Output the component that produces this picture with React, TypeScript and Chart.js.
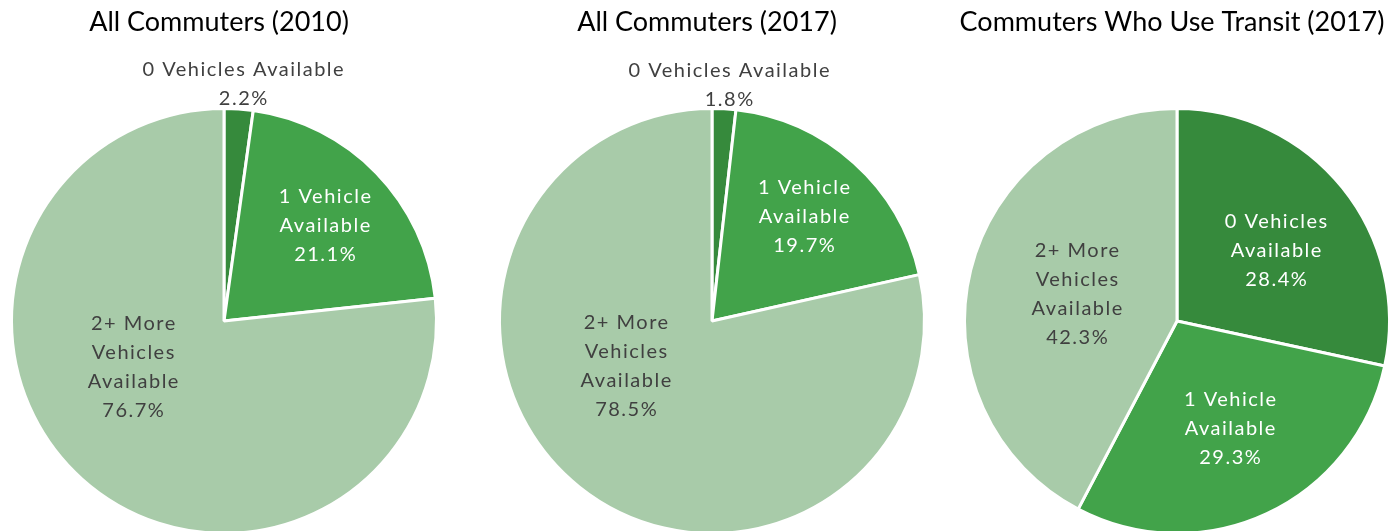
import React, { useEffect, useRef } from "react";
import { Chart, registerables } from "chart.js";
Chart.register(...registerables);

// ---- data ----
const categories = ["0 Vehicles Available", "1 Vehicle Available", "2+ More Vehicles Available"];
const titles = ["All Commuters (2010)", "All Commuters (2017)", "Commuters Who Use Transit (2017)"];
const values2010 = [2.2, 21.1, 76.7];
const values2017 = [1.8, 19.7, 78.5];
const valuesTransit2017 = [28.4, 29.3, 42.3];

// label text broken into lines (per chart)
const linesAll = [["0 Vehicles Available"], ["1 Vehicle", "Available"], ["2+ More", "Vehicles", "Available"]];
const linesTransit = [["0 Vehicles", "Available"], ["1 Vehicle", "Available"], ["2+ More", "Vehicles", "Available"]];

// ---- styles / layout ----
const colors = ["#368a3c", "#42a34a", "#a8cba9"];
const labelColorsAll = ["#404040", "#ffffff", "#404040"];
const labelColorsTransit = ["#ffffff", "#ffffff", "#404040"];
// label offsets relative to pie centre, in units of radius
const offsets2010 = [[0.09, -1.116], [0.476, -0.448], [-0.429, 0.215]];
const offsets2017 = [[0.08, -1.111], [0.434, -0.495], [-0.406, 0.213]];
const offsetsTransit = [[0.467, -0.33], [0.25, 0.509], [-0.472, -0.127]];

const FONT = "Lato, 'Open Sans', sans-serif";
const CW = 460;
const CH = 580;
const CY = 321;
const R = 214;

type PieSpec = {
  title: string;
  values: number[];
  lines: string[][];
  labelColors: string[];
  offsets: number[][];
  cx: number;
};

const pies: PieSpec[] = [
  { title: titles[0], values: values2010, lines: linesAll, labelColors: labelColorsAll, offsets: offsets2010, cx: 224 },
  { title: titles[1], values: values2017, lines: linesAll, labelColors: labelColorsAll, offsets: offsets2017, cx: 712 },
  { title: titles[2], values: valuesTransit2017, lines: linesTransit, labelColors: labelColorsTransit, offsets: offsetsTransit, cx: 1177 },
];

function PieChart({ spec }: { spec: PieSpec }) {
  const ref = useRef<HTMLCanvasElement>(null);
  useEffect(() => {
    if (!ref.current) return;
    const labelPlugin = {
      id: "pieLabels",
      afterDatasetsDraw(chart: any) {
        const ctx = chart.ctx;
        const meta = chart.getDatasetMeta(0);
        const arc0 = meta.data[0];
        const x0 = arc0.x;
        const y0 = arc0.y;
        const r = 212;
        ctx.save();
        // title
        ctx.font = `27px ${FONT}`;
        ctx.fillStyle = "#000000";
        ctx.textAlign = "center";
        ctx.textBaseline = "middle";
        ctx.fillText(spec.title, x0 - 5, 22);
        // data labels
        ctx.font = `20px ${FONT}`;
        (ctx as any).letterSpacing = "1.5px";
        spec.values.forEach((v, i) => {
          const lines = [...spec.lines[i], v.toFixed(1) + "%"];
          const [fx, fy] = spec.offsets[i];
          const lx = x0 + fx * r + 0.75;
          const ly = y0 + fy * r;
          ctx.fillStyle = spec.labelColors[i];
          const n = lines.length;
          lines.forEach((t, k) => {
            ctx.fillText(t, lx, ly + (k - (n - 1) / 2) * 29);
          });
        });
        ctx.restore();
      },
    };
    const chart = new Chart(ref.current, {
      type: "pie",
      data: {
        labels: categories,
        datasets: [
          {
            data: spec.values,
            backgroundColor: colors,
            borderColor: "#ffffff",
            borderWidth: 3,
            hoverOffset: 0,
          },
        ],
      },
      options: {
        animation: false,
        responsive: false,
        devicePixelRatio: 1,
        layout: {
          padding: { top: CY - R, bottom: CH - CY - R, left: CW / 2 - R, right: CW / 2 - R },
        },
        plugins: {
          legend: { display: false },
          tooltip: { enabled: false },
          title: { display: false },
        },
        events: [],
      },
      plugins: [labelPlugin],
    });
    return () => chart.destroy();
  }, [spec]);
  return (
    <canvas
      ref={ref}
      width={CW}
      height={CH}
      style={{ position: "absolute", left: spec.cx - CW / 2, top: 0, width: CW, height: CH }}
    />
  );
}

export default function App() {
  return (
    <div
      style={{
        position: "fixed",
        left: 0,
        top: 0,
        width: 1393,
        height: 531,
        overflow: "hidden",
        background: "#ffffff",
      }}
    >
      {pies.map((p, i) => (
        <PieChart key={i} spec={p} />
      ))}
    </div>
  );
}
